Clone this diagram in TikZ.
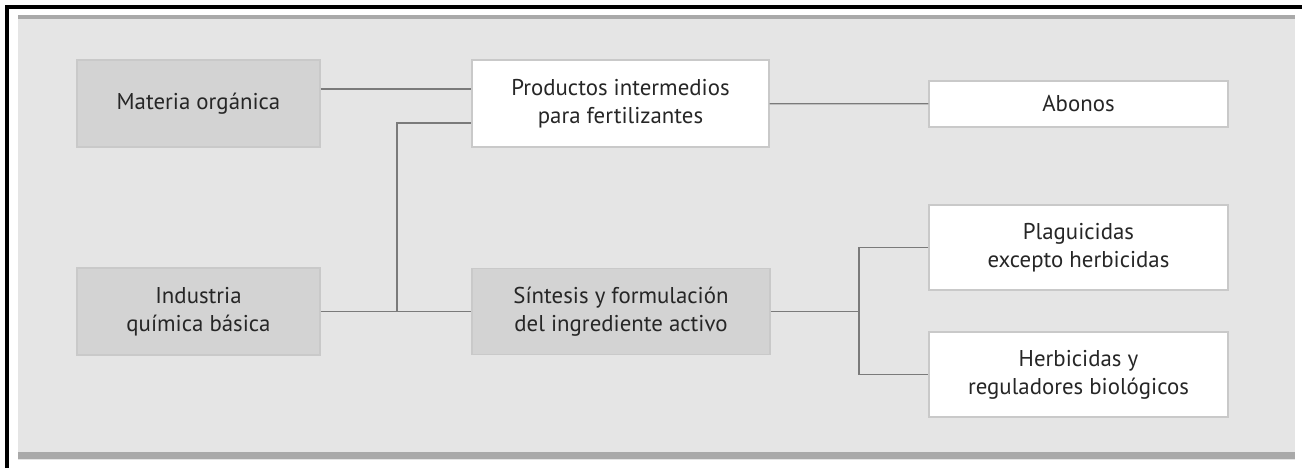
\documentclass[tikz,border=0pt]{standalone}
\usepackage{fontspec}
\setmainfont{PT Sans}
\usepackage{tikz}
\usepackage{xcolor}
\definecolor{panel}{HTML}{E5E5E5}
\definecolor{stripe}{HTML}{A9A9A9}
\definecolor{boxgray}{HTML}{D3D3D3}
\definecolor{boxline}{HTML}{C9C9C9}
\definecolor{linkgray}{HTML}{7A7A7A}
\definecolor{txt}{HTML}{262626}
\tikzset{
 box/.style={draw=boxline, line width=0.8pt, text=txt, align=center,
  font=\fontsize{13}{16}\selectfont, inner sep=0pt},
 graybox/.style={box, fill=boxgray},
 whitebox/.style={box, fill=white},
 link/.style={draw=linkgray, line width=0.7pt},
 }

\begin{document}
\begin{tikzpicture}[x=0.02cm, y=-0.02cm]
        \useasboundingbox (0,0) rectangle (1302,468);

        % frame and panel
        \fill[panel] (18,15) rectangle (1295,460);
        \fill[stripe] (18,15) rectangle (1295,19);
        \fill[stripe] (18,452) rectangle (1295,459);
        \draw[line width=1.8pt] (7,468) -- (7,7) -- (1302,7);

        % boxes
        \node[graybox, minimum width=4.86cm, minimum height=1.74cm] (mat) at (198.5,103.5) {Materia orgánica};
        \node[graybox, minimum width=4.86cm, minimum height=1.74cm] (ind) at (198.5,311.5) {Industria\\química básica};
        \node[whitebox, minimum width=5.94cm, minimum height=1.74cm] (prod) at (620.5,103.5) {Productos intermedios\\para fertilizantes};
        \node[graybox, minimum width=5.96cm, minimum height=1.72cm] (sin) at (621,311.5) {Síntesis y formulación\\del ingrediente activo};
        \node[whitebox, minimum width=5.98cm, minimum height=0.92cm] (abo) at (1078.5,104) {Abonos};
        \node[whitebox, minimum width=5.98cm, minimum height=1.70cm] (plag) at (1078.5,247.5) {Plaguicidas\\excepto herbicidas};
        \node[whitebox, minimum width=5.98cm, minimum height=1.70cm] (herb) at (1078.5,374.5) {Herbicidas y\\reguladores biológicos};

        \coordinate (fork) at (397,123);
        \coordinate (split) at (859,311.5);

        % connectors
        \draw[link] (mat.east |- 0,89) -- (prod.west |- 0,89);
        \draw[link] (ind) -- (sin);
        \draw[link] (fork |- ind.east) -- (fork) -- (prod.west |- fork);
        \draw[link] (prod) -- (abo);
        \draw[link] (sin) -- (split);
        \draw[link] (plag.west) -| (split) |- (herb.west);
\end{tikzpicture}
\end{document}
